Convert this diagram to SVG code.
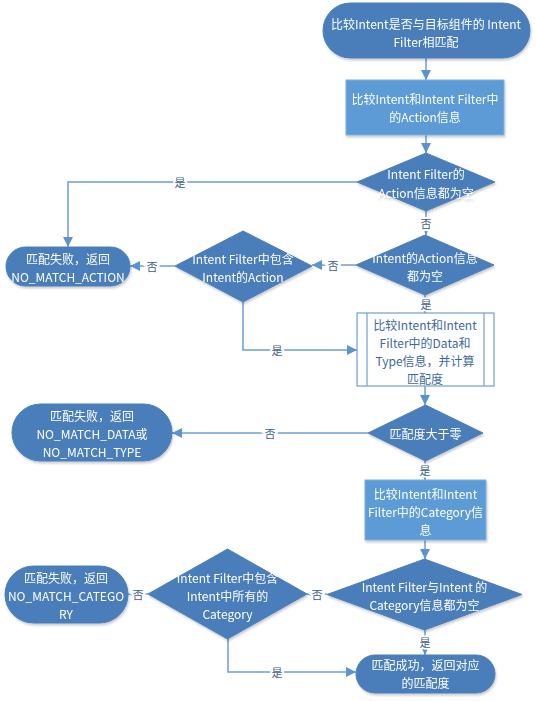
<svg xmlns="http://www.w3.org/2000/svg" width="536" height="701" viewBox="0 0 536 701">
<defs>
<style>
.term{fill:#4a7ebb;stroke:#4a7ebb;stroke-width:1}
.dia{fill:#4a7ebb;stroke:#4a7ebb;stroke-width:1}
.proc{fill:#5b9bd5;stroke:#7fb0de;stroke-width:1}
.pre{fill:#ffffff;stroke:#6f9fd0;stroke-width:1.2}
.t{font-family:"Noto Sans CJK SC","Noto Sans",sans-serif;font-size:12px;fill:#ffffff;text-anchor:middle;dominant-baseline:central}
.tb{font-family:"Noto Sans CJK SC","Noto Sans",sans-serif;font-size:12px;fill:#3d6a9e;text-anchor:middle;dominant-baseline:central}
.lbl{font-family:"Noto Sans CJK SC","Noto Sans",sans-serif;font-size:11px;fill:#3f5f86;text-anchor:middle;dominant-baseline:central;stroke:#ffffff;stroke-width:4;paint-order:stroke}
.c{fill:none;stroke:#6a9fd4;stroke-width:1.5;marker-end:url(#arr)}
</style>
<marker id="arr" markerUnits="userSpaceOnUse" markerWidth="10" markerHeight="10" refX="10" refY="5" orient="auto" viewBox="0 0 10 10">
<path d="M0,0 L10,5 L0,10 z" fill="#5b93cf"/>
</marker>
<filter id="sh" x="-10%" y="-10%" width="125%" height="130%">
<feDropShadow dx="1" dy="2" stdDeviation="1.2" flood-color="#000000" flood-opacity="0.2"/>
</filter>
</defs>

<g id="connectors">
<path class="c" d="M426,58 L426,80"/>
<path class="c" d="M426,135 L426,153"/>
<path class="c" d="M426,211 L426,235"/>
<path class="c" d="M425,295 L425,313"/>
<path class="c" d="M357,182 L68,182 L68,247"/>
<path class="c" d="M356,265 L312,265"/>
<path class="c" d="M175,266 L130,266"/>
<path class="c" d="M243,302 L243,350 L357,350"/>
<path class="c" d="M425,386 L425,405"/>
<path class="c" d="M368,433 L172,433"/>
<path class="c" d="M425,461 L425,480"/>
<path class="c" d="M425,540 L425,559"/>
<path class="c" d="M327,594 L307,594"/>
<path class="c" d="M148,594 L128,594"/>
<path class="c" d="M425,630 L425,655"/>
<path class="c" d="M228,639 L228,672 L356,672"/>
<text class="lbl" x="426" y="223">否</text>
<text class="lbl" x="426" y="304">是</text>
<text class="lbl" x="180" y="182">是</text>
<text class="lbl" x="333" y="265">否</text>
<text class="lbl" x="152" y="266">否</text>
<text class="lbl" x="277" y="350">是</text>
<text class="lbl" x="270" y="433">否</text>
<text class="lbl" x="425" y="470">是</text>
<text class="lbl" x="317" y="594">否</text>
<text class="lbl" x="138" y="594">否</text>
<text class="lbl" x="425" y="642">是</text>
<text class="lbl" x="277" y="672">是</text>
</g>

<g id="start" filter="url(#sh)">
<rect class="term" x="323" y="3" width="207" height="55" rx="27.5"/>
<text class="t" x="426" y="23">比较Intent是否与目标组件的 Intent</text>
<text class="t" x="426" y="41">Filter相匹配</text>
</g>

<g id="compare-action" filter="url(#sh)">
<rect class="proc" x="346" y="80" width="158" height="55"/>
<text class="t" x="425" y="98">比较Intent和Intent Filter中</text>
<text class="t" x="425" y="116">的Action信息</text>
</g>

<g id="filter-action-empty" filter="url(#sh)">
<polygon class="dia" points="426,153 495,182 426,211 357,182"/>
<text class="t" x="426" y="173">Intent Filter的</text>
<text class="t" x="426" y="192">Action信息都为空</text>
</g>

<g id="intent-action-empty" filter="url(#sh)">
<polygon class="dia" points="425,235 494,265 425,295 356,265"/>
<text class="t" x="425" y="257">Intent的Action信息</text>
<text class="t" x="425" y="275">都为空</text>
</g>

<g id="filter-has-action" filter="url(#sh)">
<polygon class="dia" points="243,231 312,266 243,302 175,266"/>
<text class="t" x="243" y="258">Intent Filter中包含</text>
<text class="t" x="243" y="276">Intent的Action</text>
</g>

<g id="fail-action" filter="url(#sh)">
<rect class="term" x="6" y="247" width="124" height="39" rx="19.5"/>
<text class="t" x="68" y="258">匹配失败，返回</text>
<text class="t" x="68" y="276">NO_MATCH_ACTION</text>
</g>

<g id="compare-data">
<rect class="pre" x="357" y="313" width="137" height="73"/>
<line class="pre" x1="367" y1="313" x2="367" y2="386"/>
<line class="pre" x1="484" y1="313" x2="484" y2="386"/>
<text class="tb" x="425" y="324">比较Intent和Intent</text>
<text class="tb" x="425" y="342">Filter中的Data和</text>
<text class="tb" x="425" y="360">Type信息，并计算</text>
<text class="tb" x="425" y="378">匹配度</text>
</g>

<g id="score-positive" filter="url(#sh)">
<polygon class="dia" points="425.5,405 483,433 425.5,461 368,433"/>
<text class="t" x="425.5" y="433">匹配度大于零</text>
</g>

<g id="fail-data" filter="url(#sh)">
<rect class="term" x="12" y="404" width="160" height="57" rx="28.5"/>
<text class="t" x="92" y="415">匹配失败，返回</text>
<text class="t" x="92" y="433">NO_MATCH_DATA或</text>
<text class="t" x="92" y="451">NO_MATCH_TYPE</text>
</g>

<g id="compare-category" filter="url(#sh)">
<rect class="proc" x="365" y="480" width="121" height="60"/>
<text class="t" x="425.5" y="493">比较Intent和Intent</text>
<text class="t" x="425.5" y="511">Filter中的Category信</text>
<text class="t" x="425.5" y="529">息</text>
</g>

<g id="category-empty" filter="url(#sh)">
<polygon class="dia" points="424.5,559 522,594.5 424.5,630 327,594.5"/>
<text class="t" x="424.5" y="586">Intent Filter与Intent 的</text>
<text class="t" x="424.5" y="604">Category信息都为空</text>
</g>

<g id="filter-has-category" filter="url(#sh)">
<polygon class="dia" points="227.5,549 307,594 227.5,639 148,594"/>
<text class="t" x="227.5" y="577">Intent Filter中包含</text>
<text class="t" x="227.5" y="595">Intent中所有的</text>
<text class="t" x="227.5" y="613">Category</text>
</g>

<g id="fail-category" filter="url(#sh)">
<rect class="term" x="5" y="566" width="123" height="57" rx="28.5"/>
<text class="t" x="66" y="577">匹配失败，返回</text>
<text class="t" x="66" y="595">NO_MATCH_CATEGO</text>
<text class="t" x="66" y="613">RY</text>
</g>

<g id="success" filter="url(#sh)">
<rect class="term" x="356" y="655" width="139" height="38" rx="19"/>
<text class="t" x="425.5" y="664">匹配成功，返回对应</text>
<text class="t" x="425.5" y="682">的匹配度</text>
</g>
</svg>
